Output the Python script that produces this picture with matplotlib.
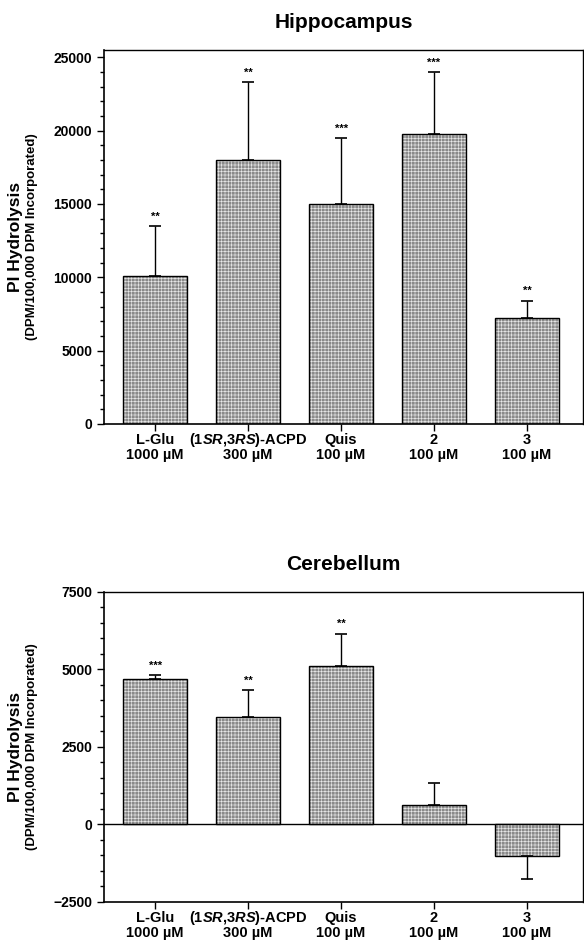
import matplotlib
matplotlib.use("Agg")
import matplotlib.pyplot as plt
from matplotlib.ticker import MultipleLocator
from matplotlib.transforms import blended_transform_factory, offset_copy

plt.rcParams["font.family"] = ["Liberation Sans", "DejaVu Sans"]
plt.rcParams["font.weight"] = "bold"
plt.rcParams["mathtext.fontset"] = "custom"
plt.rcParams["mathtext.it"] = "Liberation Sans:italic:bold"
plt.rcParams["mathtext.rm"] = "Liberation Sans:bold"
plt.rcParams["hatch.linewidth"] = 0.45

NAMES = ["L-Glu", "(1$\\mathit{SR}$,3$\\mathit{RS}$)-ACPD", "Quis", "2", "3"]
DOSES = ["1000 µM", "300 µM", "100 µM", "100 µM", "100 µM"]

HIPPO_VALUES = [10100, 18000, 15000, 19800, 7200]
HIPPO_ERRORS = [3400, 5300, 4500, 4200, 1200]
HIPPO_STARS = ["**", "**", "***", "***", "**"]

CEREB_VALUES = [4700, 3450, 5100, 620, -1030]
CEREB_ERRORS = [120, 880, 1050, 710, 730]
CEREB_STARS = ["***", "**", "**", "", ""]

BAR_COLOR = "#8a8a8a"


def draw_panel(ax, title, values, errors, stars, ylim, major, minor, star_pad):
    xs = list(range(len(values)))
    ax.bar(xs, values, width=0.68, color=BAR_COLOR, edgecolor="#e8e8e8", hatch="+++++", linewidth=0)
    ax.bar(xs, values, width=0.68, fill=False, edgecolor="black", linewidth=1.0)
    for x, v, e, s in zip(xs, values, errors, stars):
        yerr = [[0], [e]] if v >= 0 else [[e], [0]]
        ax.errorbar(x, v, yerr=yerr, fmt="none", ecolor="black",
                    elinewidth=1.0, capsize=4, capthick=1.2)
        if s:
            ax.text(x, v + e + star_pad, s, ha="center", va="bottom", fontsize=8)

    ax.set_xlim(-0.55, 4.6)
    ax.set_ylim(*ylim)
    ax.yaxis.set_major_locator(MultipleLocator(major))
    ax.yaxis.set_minor_locator(MultipleLocator(minor))
    ax.set_xticks(xs)
    ax.set_xticklabels([""] * len(xs))
    ax.tick_params(axis="y", labelsize=10, length=5, width=1)
    ax.tick_params(axis="y", which="minor", length=3, width=1)
    ax.tick_params(axis="x", length=5, width=1)
    for side in ("top", "right"):
        ax.spines[side].set_linewidth(1.0)
    for side in ("left", "bottom"):
        ax.spines[side].set_linewidth(1.2)

    # two-line category labels under the ticks
    base = blended_transform_factory(ax.transData, ax.transAxes)
    line1 = offset_copy(base, fig=ax.figure, y=-20, units="dots")
    line2 = offset_copy(base, fig=ax.figure, y=-35, units="dots")
    for x, name, dose in zip(xs, NAMES, DOSES):
        ax.text(x, 0, name, transform=line1, ha="center", va="baseline", fontsize=10.5)
        ax.text(x, 0, dose, transform=line2, ha="center", va="baseline", fontsize=10.5)

    ax.set_title(title, fontsize=15, fontweight="bold", pad=16)
    ax.text(-0.185, 0.5, "PI Hydrolysis", rotation=90, transform=ax.transAxes,
            ha="center", va="center", fontsize=12.5)
    ax.text(-0.15, 0.5, "(DPM/100,000 DPM Incorporated)", rotation=90, transform=ax.transAxes,
            ha="center", va="center", fontsize=9.5)


fig = plt.figure(figsize=(5.84, 9.44), dpi=100)
ax1 = fig.add_axes([0.178, 0.551, 0.82, 0.396])
ax2 = fig.add_axes([0.178, 0.0445, 0.82, 0.3285])

draw_panel(ax1, "Hippocampus", HIPPO_VALUES, HIPPO_ERRORS, HIPPO_STARS,
           (0, 25500), 5000, 1000, 300)
draw_panel(ax2, "Cerebellum", CEREB_VALUES, CEREB_ERRORS, CEREB_STARS,
           (-2500, 7500), 2500, 500, 150)
ax2.axhline(0, color="black", linewidth=1.0, zorder=0.5)

fig.savefig("out.png", dpi=100)
